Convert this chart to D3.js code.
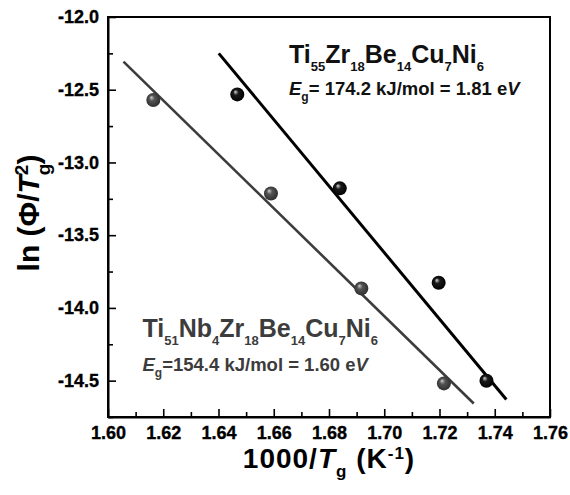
<!DOCTYPE html>
<html>
<head>
<meta charset="utf-8">
<script src="https://cdn.jsdelivr.net/npm/d3@7"></script>
<style>
    body { margin: 0; background: #fff; }
    text { font-family: "Liberation Sans", Arial, sans-serif; font-weight: bold; }
</style>
</head>
<body>
<svg id="chart" width="570" height="495"></svg>
<script>
// tick values
const xTicks = [1.60, 1.62, 1.64, 1.66, 1.68, 1.70, 1.72, 1.74, 1.76];
const yTicks = [-12.0, -12.5, -13.0, -13.5, -14.0, -14.5];

// Ti55Zr18Be14Cu7Ni6 (black)
const tiZrX = [1.6468, 1.6839, 1.7197, 1.7370];
const tiZrY = [-12.532, -13.178, -13.827, -14.501];
// Ti51Nb4Zr18Be14Cu7Ni6 (grey)
const tiNbX = [1.6164, 1.6590, 1.6917, 1.7216];
const tiNbY = [-12.571, -13.213, -13.866, -14.519];

// fitted lines, end points as drawn
const tiZrFitX = [1.6401, 1.7442];
const tiZrFitY = [-12.25, -14.63];
const tiNbFitX = [1.6056, 1.7324];
const tiNbFitY = [-12.307, -14.657];

/**
 * Basic sizes
 */
const margin = {top: 17, right: 20, bottom: 78, left: 108};
const width = 570 - margin.left - margin.right;
const height = 495 - margin.top - margin.bottom;

const svg = d3.select("#chart");
const chart = svg.append("g").attr("transform", `translate(${margin.left}, ${margin.top})`);

const xScale = d3.scaleLinear().domain([1.60, 1.76]).range([0, width]);
const yScale = d3.scaleLinear().domain([-14.75, -12.0]).range([height, 0]);

// sphere-like marker fills
const defs = svg.append("defs");
function sphere(id, light, mid, dark) {
    const grad = defs.append("radialGradient")
        .attr("id", id)
        .attr("cx", "50%").attr("cy", "50%").attr("r", "55%")
        .attr("fx", "35%").attr("fy", "30%");
    grad.append("stop").attr("offset", "0%").attr("stop-color", light);
    grad.append("stop").attr("offset", "35%").attr("stop-color", mid);
    grad.append("stop").attr("offset", "100%").attr("stop-color", dark);
}
sphere("ballBlack", "#d8d8d8", "#1a1a1a", "#000");
sphere("ballGrey", "#cfcfcf", "#555", "#2a2a2a");

/**
 * Axes, ticks pointing inward
 */
const fmt1 = d => d.toFixed(1);
const fmt2 = d => d.toFixed(2);
const minorX = d3.range(0, 8).map(i => 1.61 + i * 0.02);
const minorY = d3.range(0, 6).map(i => -12.25 - i * 0.5);

chart.append("g")
    .attr("transform", `translate(0, ${height})`)
    .call(d3.axisBottom(xScale).tickValues(xTicks).tickFormat(fmt2).tickSizeInner(-8).tickSizeOuter(0).tickPadding(9));
chart.append("g")
    .attr("transform", `translate(0, ${height})`)
    .call(d3.axisBottom(xScale).tickValues(minorX).tickFormat("").tickSizeInner(-5).tickSizeOuter(0))
    .select(".domain").remove();

chart.append("g")
    .call(d3.axisLeft(yScale).tickValues(yTicks).tickFormat(fmt1).tickSizeInner(-8).tickSizeOuter(0).tickPadding(9));
chart.append("g")
    .call(d3.axisLeft(yScale).tickValues(minorY).tickFormat("").tickSizeInner(-5).tickSizeOuter(0))
    .select(".domain").remove();

chart.selectAll(".tick line").attr("stroke", "#000").attr("stroke-width", 1.6);
chart.selectAll(".domain").attr("stroke", "#000").attr("stroke-width", 2);
chart.selectAll(".tick text")
    .attr("fill", "#000")
    .attr("stroke", "#000")
    .attr("stroke-width", 0.35)
    .style("font-size", "18px")
    .style("font-weight", "bold");

// frame top and right
chart.append("rect")
    .attr("x", 0).attr("y", 0)
    .attr("width", width).attr("height", height)
    .attr("fill", "none").attr("stroke", "#000").attr("stroke-width", 2);

/**
 * Lines and points
 */
function drawSeries(fx, fy, px, py, color, lineWidth, ball) {
    const fit = fx.map((x, i) => ({x: x, y: fy[i]}));
    chart.append("path")
        .datum(fit)
        .attr("fill", "none")
        .attr("stroke", color)
        .attr("stroke-width", lineWidth)
        .attr("d", d3.line().x(d => xScale(d.x)).y(d => yScale(d.y)));

    const pts = px.map((x, i) => ({x: x, y: py[i]}));
    chart.selectAll(null)
        .data(pts)
        .enter()
        .append("circle")
        .attr("cx", d => xScale(d.x))
        .attr("cy", d => yScale(d.y))
        .attr("r", 7)
        .attr("fill", `url(#${ball})`);
}
drawSeries(tiNbFitX, tiNbFitY, tiNbX, tiNbY, "#3c3c3c", 2.6, "ballGrey");
drawSeries(tiZrFitX, tiZrFitY, tiZrX, tiZrY, "#000", 3, "ballBlack");

/**
 * Text with sub/superscripts
 * parts: [text, kind], kind: "" | "sub" | "sup" | "i" (italic) | "stack" (sup placed over the previous sub)
 */
function richText(parent, x, y, parts, size, smallSize, shift, fill, extra) {
    const t = parent.append("text")
        .attr("x", x).attr("y", y)
        .attr("fill", fill)
        .style("font-size", size + "px");
    if (extra) extra(t);
    let offset = 0;
    let last = null;
    parts.forEach(([str, kind]) => {
        const span = t.append("tspan").text(str);
        let want = 0;
        if (kind === "sub") want = shift;
        if (kind === "sup" || kind === "stack") want = -shift;
        span.attr("dy", want - offset);
        offset = want;
        if (kind === "sub" || kind === "sup" || kind === "stack") span.style("font-size", smallSize + "px");
        if (kind === "i") span.style("font-style", "italic");
        if (kind === "stack" && last) span.attr("dx", -last.node().getComputedTextLength());
        last = span;
    });
    return t;
}

const labels = svg.append("g");
richText(labels, 289, 63,
    [["Ti", ""], ["55", "sub"], ["Zr", ""], ["18", "sub"], ["Be", ""], ["14", "sub"], ["Cu", ""], ["7", "sub"], ["Ni", ""], ["6", "sub"]],
    25, 13, 8, "#111");
richText(labels, 289, 95,
    [["E", "i"], ["g", "sub"], ["= 174.2 kJ/mol = 1.81 e", ""], ["V", "i"]],
    18.5, 12, 6, "#111");

richText(labels, 142.5, 337,
    [["Ti", ""], ["51", "sub"], ["Nb", ""], ["4", "sub"], ["Zr", ""], ["18", "sub"], ["Be", ""], ["14", "sub"], ["Cu", ""], ["7", "sub"], ["Ni", ""], ["6", "sub"]],
    25, 13, 8, "#3c3c3c");
richText(labels, 142.5, 371,
    [["E", "i"], ["g", "sub"], ["=154.4 kJ/mol = 1.60 e", ""], ["V", "i"]],
    18.5, 12, 6, "#3c3c3c");

/**
 * Axis titles
 */
richText(svg, margin.left + width / 2, 468,
    [["1000/", ""], ["T", "i"], ["g", "sub"], [" (K", ""], ["-1", "sup"], [")", ""]],
    28, 17, 9, "#000", t => t.attr("text-anchor", "middle").style("letter-spacing", "1px"));

richText(svg, 0, 0,
    [["ln (Φ/", ""], ["T", "i"], ["g", "sub"], ["2", "stack"], [")", ""]],
    30, 19, 11, "#000",
    t => t.attr("text-anchor", "middle")
        .attr("transform", `translate(39, 213) rotate(-90)`));
</script>
</body>
</html>
